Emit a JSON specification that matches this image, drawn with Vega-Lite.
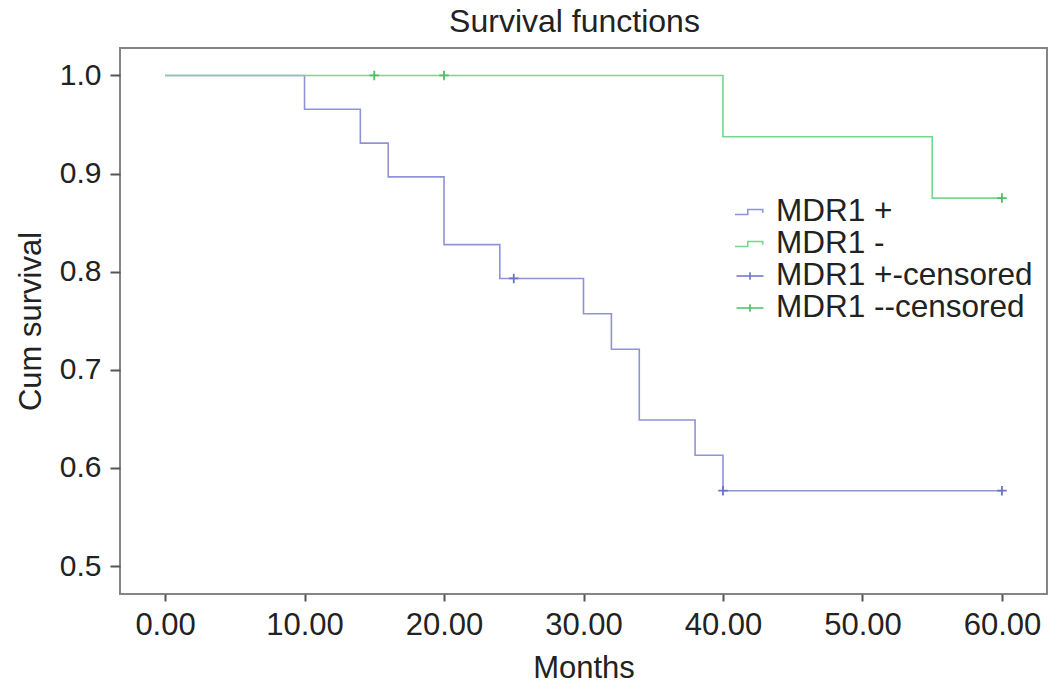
{
  "$schema": "https://vega.github.io/schema/vega-lite/v6.json",
  "width": 927,
  "height": 546,
  "autosize": "none",
  "padding": {"left": 120, "top": 48, "right": 16, "bottom": 98},
  "background": "white",
  "title": {"text": "Survival functions", "fontSize": 32, "font": "Liberation Sans", "fontWeight": "normal", "color": "#222222", "baseline": "alphabetic", "offset": -16, "dx": -9},
  "config": {
    "view": {"stroke": "#858585", "strokeWidth": 2},
    "font": "Liberation Sans",
    "axis": {"domain": false, "grid": false, "tickColor": "#555555", "tickWidth": 2, "labelColor": "#222222", "titleColor": "#222222", "labelFont": "Liberation Sans", "titleFont": "Liberation Sans", "titleFontWeight": "normal"},
    "legend": {"labelFont": "Liberation Sans", "labelFontSize": 31.5, "labelColor": "#222222", "labelLimit": 0}
  },
  "datasets": {
    "curves": [
      {"series": "MDR1 +", "months": 0, "survival": 1.0},
      {"series": "MDR1 +", "months": 10, "survival": 0.9655},
      {"series": "MDR1 +", "months": 14, "survival": 0.931},
      {"series": "MDR1 +", "months": 16, "survival": 0.8966},
      {"series": "MDR1 +", "months": 20, "survival": 0.8276},
      {"series": "MDR1 +", "months": 24, "survival": 0.7931},
      {"series": "MDR1 +", "months": 30, "survival": 0.7571},
      {"series": "MDR1 +", "months": 32, "survival": 0.721},
      {"series": "MDR1 +", "months": 34, "survival": 0.6489},
      {"series": "MDR1 +", "months": 38, "survival": 0.6129},
      {"series": "MDR1 +", "months": 40, "survival": 0.5768},
      {"series": "MDR1 +", "months": 60, "survival": 0.5768},
      {"series": "MDR1 -", "months": 0, "survival": 1.0},
      {"series": "MDR1 -", "months": 40, "survival": 0.9375},
      {"series": "MDR1 -", "months": 55, "survival": 0.875},
      {"series": "MDR1 -", "months": 60, "survival": 0.875}
    ],
    "censored": [
      {"series": "MDR1 +-censored", "months": 25, "survival": 0.7931},
      {"series": "MDR1 +-censored", "months": 40, "survival": 0.5768},
      {"series": "MDR1 +-censored", "months": 60, "survival": 0.5768},
      {"series": "MDR1 --censored", "months": 15, "survival": 1.0},
      {"series": "MDR1 --censored", "months": 20, "survival": 1.0},
      {"series": "MDR1 --censored", "months": 60, "survival": 0.875}
    ]
  },
  "layer": [
    {
      "data": {"name": "curves"},
      "mark": {"type": "line", "interpolate": "step-after", "strokeWidth": 1.6},
      "encoding": {
        "x": {"field": "months", "type": "quantitative", "scale": {"domain": [-3.23, 63.23], "nice": false, "zero": false},
          "axis": {"values": [0, 10, 20, 30, 40, 50, 60], "format": ".2f", "labelFontSize": 31, "tickSize": 7, "labelPadding": 9, "title": "Months", "titleFontSize": 31, "titlePadding": 13}},
        "y": {"field": "survival", "type": "quantitative", "scale": {"domain": [0.4715, 1.028], "nice": false, "zero": false},
          "axis": {"values": [0.5, 0.6, 0.7, 0.8, 0.9, 1.0], "format": ".1f", "labelFontSize": 30, "tickSize": 10, "labelPadding": 9, "title": "Cum survival", "titleFontSize": 31, "titlePadding": 12}},
        "color": {"field": "series", "type": "nominal",
          "scale": {"domain": ["MDR1 +", "MDR1 -", "MDR1 +-censored", "MDR1 --censored"], "range": ["#8f93d6", "#74d88e", "#6a74c0", "#4cbf68"]},
          "legend": {"title": null, "orient": "none", "legendX": 614, "legendY": 148, "padding": 0, "rowPadding": -1.5, "symbolSize": 900, "symbolStrokeWidth": 1.6, "labelOffset": 10,
            "encode": {"symbols": {"update": {
              "shape": {"signal": "indexof(datum.value, 'censored') >= 0 ? 'M-0.9,0H0.9M0,-0.25V0.25' : 'M-1,0.17H-0.15V-0.17H0.85V0.05'"},
              "fill": {"value": "transparent"}}}}}}
      }
    },
    {
      "data": {"name": "censored"},
      "mark": {"type": "point", "shape": "M-1,0H1M0,-1V1", "size": 90, "filled": false, "strokeWidth": 1.8, "opacity": 1},
      "encoding": {
        "x": {"field": "months", "type": "quantitative"},
        "y": {"field": "survival", "type": "quantitative"},
        "color": {"field": "series", "type": "nominal"}
      }
    }
  ]
}
